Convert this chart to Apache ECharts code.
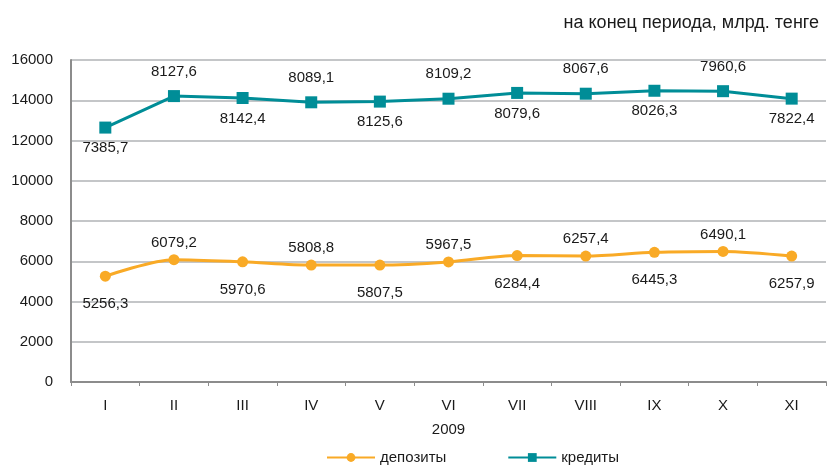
<!DOCTYPE html>
<html>
<head>
<meta charset="utf-8">
<script src="https://cdn.jsdelivr.net/npm/echarts@6/dist/echarts.min.js"></script>
<style>
html,body{margin:0;padding:0;background:#fff;}
#chart{width:830px;height:465px;}
</style>
</head>
<body>
<div id="chart"></div>
<script>
const categories = ['I','II','III','IV','V','VI','VII','VIII','IX','X','XI'];
const deposits = [5256.3, 6079.2, 5970.6, 5808.8, 5807.5, 5967.5, 6284.4, 6257.4, 6445.3, 6490.1, 6257.9];
const credits = [7385.7, 8127.6, 8142.4, 8089.1, 8125.6, 8109.2, 8079.6, 8067.6, 8026.3, 7960.6, 7822.4];
const yTicks = [0, 2000, 4000, 6000, 8000, 10000, 12000, 14000, 16000];
const yearLabel = '2009';
const unitTitle = 'на конец периода, млрд. тенге';
const seriesNames = ['депозиты', 'кредиты'];

const FONT = 'Liberation Sans, Arial, sans-serif';
const TXT = '#1a1a1a';
function fmt(v){ return v.toFixed(1).replace('.', ','); }
function withLabels(arr, distTop, distBottom){
  return arr.map((v,i)=>({
    value: v,
    label: i % 2 === 0 ? { position: 'bottom', distance: distBottom } : { position: 'top', distance: distTop }
  }));
}

const chart = echarts.init(document.getElementById('chart'), null, {renderer:'canvas'});
chart.setOption({
  animation: false,
  textStyle: { fontFamily: FONT },
  title: {
    text: unitTitle,
    right: 6, top: 9,
    textStyle: { fontSize: 18, fontWeight: 'normal', color: TXT, fontFamily: FONT }
  },
  legend: {
    bottom: -5,
    left: 321,
    itemWidth: 48,
    itemHeight: 11,
    itemGap: 61,
    textStyle: { fontSize: 15, color: TXT, fontFamily: FONT },
    data: seriesNames
  },
  grid: { left: 71, right: 4, top: 60, bottom: 83, containLabel: false },
  xAxis: {
    type: 'category',
    data: categories,
    boundaryGap: true,
    name: yearLabel,
    nameLocation: 'middle',
    nameGap: 40,
    nameTextStyle: { fontSize: 15, color: TXT, fontFamily: FONT },
    axisLine: { lineStyle: { color: '#8c8c8c', width: 2 } },
    axisTick: { show: true, length: 4, lineStyle: { color: '#8c8c8c' } },
    axisLabel: { fontSize: 15, color: TXT, margin: 16, fontFamily: FONT }
  },
  yAxis: {
    type: 'value',
    min: yTicks[0],
    max: yTicks[yTicks.length-1],
    interval: 2000,
    axisLine: { show: true, lineStyle: { color: '#8c8c8c', width: 2 } },
    axisTick: { show: false },
    axisLabel: { fontSize: 15, color: TXT, margin: 18, fontFamily: FONT, formatter: v => String(v) },
    splitLine: { lineStyle: { color: '#c4c6c8', width: 2 } }
  },
  series: [
    {
      name: seriesNames[0],
      type: 'line',
      stack: 'total',
      smooth: 0.3,
      data: withLabels(deposits, 4, 15),
      symbol: 'circle',
      symbolSize: 11,
      itemStyle: { color: '#F9AA26' },
      lineStyle: { color: '#F9AA26', width: 3 },
      label: {
        show: true, fontSize: 15, color: TXT, fontFamily: FONT,
        formatter: p => fmt(p.value)
      },
      z: 3
    },
    {
      name: seriesNames[1],
      type: 'line',
      stack: 'total',
      data: withLabels(credits, 11, 7),
      symbol: 'rect',
      symbolSize: 12,
      itemStyle: { color: '#008D97' },
      lineStyle: { color: '#008D97', width: 3 },
      label: {
        show: true, fontSize: 15, color: TXT, fontFamily: FONT,
        formatter: p => fmt(p.value)
      },
      z: 3
    }
  ]
});
</script>
</body>
</html>
